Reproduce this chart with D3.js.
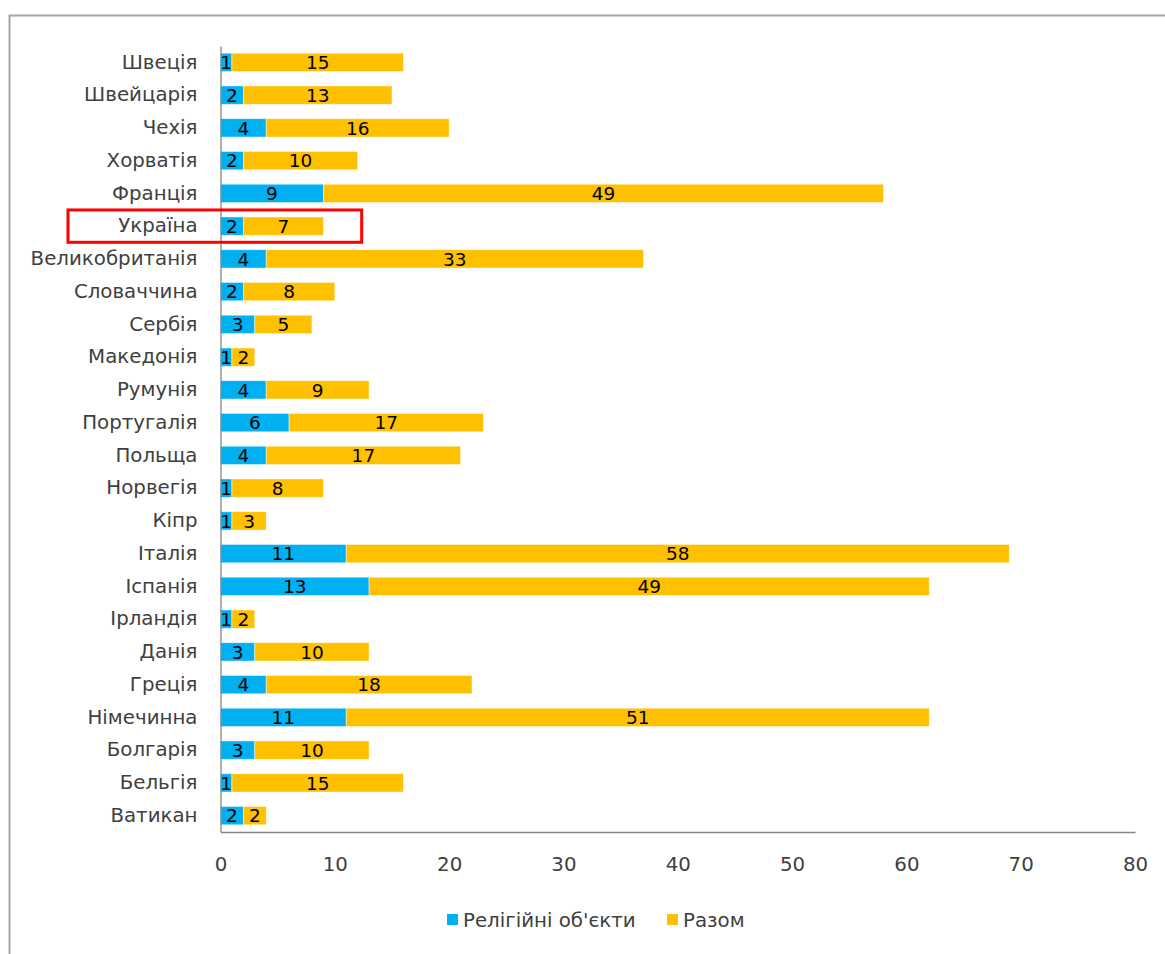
<!DOCTYPE html>
<html lang="uk">
<head>
  <meta charset="UTF-8">
  <title>stacked bars</title>
  <script src="https://d3js.org/d3.v7.min.js"></script>
  <style>
    body {
      margin: 0;
      padding: 0;
      background: #fff;
    }
    svg text {
      font-family: "DejaVu Sans", "Open Sans", sans-serif;
    }
  </style>
</head>
<body>
  <div id="chart"></div>
</body>
<script>
  // дані
  const countries = ['Швеція', 'Швейцарія', 'Чехія', 'Хорватія', 'Франція', 'Україна',
    'Великобританія', 'Словаччина', 'Сербія', 'Македонія', 'Румунія', 'Португалія',
    'Польща', 'Норвегія', 'Кіпр', 'Італія', 'Іспанія', 'Ірландія', 'Данія', 'Греція',
    'Німечинна', 'Болгарія', 'Бельгія', 'Ватикан']
  const religious = [1, 2, 4, 2, 9, 2, 4, 2, 3, 1, 4, 6, 4, 1, 1, 11, 13, 1, 3, 4, 11, 3, 1, 2]
  const total = [15, 13, 16, 10, 49, 7, 33, 8, 5, 2, 9, 17, 17, 8, 3, 58, 49, 2, 10, 18, 51, 10, 15, 2]
  const seriesNames = ['Релігійні об\'єкти', 'Разом']
  const colors = ['#00B0F0', '#FFC000']
  const xTicks = [0, 10, 20, 30, 40, 50, 60, 70, 80]
  const highlight = 'Україна'

  const width = 1165
  const height = 954
  const margin = { top: 46, right: 30, bottom: 122, left: 220.5 }
  const fs = 19.8     // підписи осей і легенда
  const fsVal = 18.5  // підписи значень

  const rows = countries.map((c, i) => ({ country: c, a: religious[i], b: total[i] }))
  const stack = d3.stack().keys(['a', 'b'])(rows)

  const svg = d3.select('#chart')
    .append('svg')
    .attr('width', width)
    .attr('height', height)

  // рамка
  svg.append('rect')
    .attr('x', 9.5).attr('y', 15.5)
    .attr('width', width + 20).attr('height', height + 20)
    .attr('fill', 'none')
    .attr('stroke', '#a6a6a6')
    .attr('stroke-width', 2)

  const x = d3.scaleLinear()
    .domain([0, 80])
    .range([margin.left, 1135])

  const y = d3.scaleBand()
    .domain(countries)
    .range([margin.top, 832])
    .paddingInner(0.44)
    .paddingOuter(0.22)

  // смуги
  const groups = svg.append('g')
    .selectAll('g')
    .data(stack)
    .join('g')
    .attr('fill', (d, i) => colors[i])

  groups.selectAll('rect')
    .data(d => d)
    .join('rect')
    .attr('x', d => x(d[0]))
    .attr('y', d => y(d.data.country))
    .attr('width', d => x(d[1]) - x(d[0]))
    .attr('height', y.bandwidth())
    .attr('stroke', '#fff')
    .attr('stroke-opacity', 0.6)
    .attr('stroke-width', 0.8)

  // підписи значень
  groups.selectAll('text')
    .data(d => d)
    .join('text')
    .attr('x', d => (x(d[0]) + x(d[1])) / 2)
    .attr('y', d => y(d.data.country) + y.bandwidth() / 2)
    .attr('dy', '0.36em')
    .attr('text-anchor', 'middle')
    .attr('fill', '#000')
    .attr('font-size', fsVal)
    .text(d => d[1] - d[0])

  // вісь Y
  const yAxis = svg.append('g')
    .attr('transform', `translate(${margin.left},0)`)
    .call(d3.axisLeft(y).tickSize(0).tickPadding(23))
  yAxis.select('.domain').attr('stroke', '#868686').attr('stroke-width', 1.3)
  yAxis.selectAll('text')
    .attr('font-size', fs)
    .attr('fill', '#404040')

  // вісь X
  const xAxis = svg.append('g')
    .attr('transform', 'translate(0,832)')
    .call(d3.axisBottom(x).tickValues(xTicks).tickSize(0).tickPadding(25))
  xAxis.select('.domain').attr('stroke', '#868686').attr('stroke-width', 1.3)
  xAxis.selectAll('text')
    .attr('font-size', fs)
    .attr('fill', '#404040')

  // виділення
  svg.append('rect')
    .attr('x', 68)
    .attr('y', y(highlight) - 7)
    .attr('width', x(12.35) - 68)
    .attr('height', y.bandwidth() + 14)
    .attr('fill', 'none')
    .attr('stroke', '#ff0000')
    .attr('stroke-width', 3)

  // легенда
  const legend = svg.append('g')
    .attr('transform', 'translate(447,920)')
  const items = legend.selectAll('g')
    .data(seriesNames)
    .join('g')
    .attr('transform', (d, i) => `translate(${i * 220},0)`)
  items.append('rect')
    .attr('x', 0).attr('y', -6)
    .attr('width', 11).attr('height', 11)
    .attr('fill', (d, i) => colors[i])
  items.append('text')
    .attr('x', 16)
    .attr('dy', '0.35em')
    .attr('font-size', fs)
    .attr('fill', '#404040')
    .text(d => d)
</script>
</html>
